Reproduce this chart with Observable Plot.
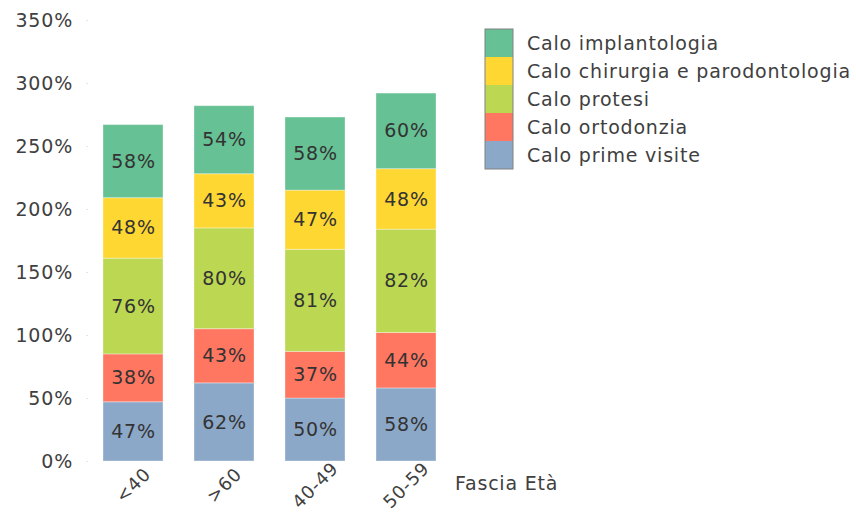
<!DOCTYPE html>
<html>
<head>
<meta charset="utf-8">
<script src="https://cdn.jsdelivr.net/npm/d3@7"></script>
<script src="https://cdn.jsdelivr.net/npm/@observablehq/plot@0.6"></script>
<style>
  html, body { margin: 0; padding: 0; background: #fff; }
  svg text { font-family: "DejaVu Sans", sans-serif; letter-spacing: 0.8px; }
</style>
</head>
<body>
<div id="chart"></div>
<script>
const categories = ["<40", ">60", "40-49", "50-59"];
const seriesNames = ["Calo prime visite", "Calo ortodonzia", "Calo protesi", "Calo chirurgia e parodontologia", "Calo implantologia"];
const seriesColors = ["#8ca8c8", "#ff7661", "#bcd852", "#ffd732", "#66c194"];
const primeVisite = [47, 62, 50, 58];
const ortodonzia = [38, 43, 37, 44];
const protesi = [76, 80, 81, 82];
const chirurgia = [48, 43, 47, 48];
const implantologia = [58, 54, 58, 60];
const yTicks = [0, 50, 100, 150, 200, 250, 300, 350];
const xLabel = "Fascia Età";

const seriesValues = [primeVisite, ortodonzia, protesi, chirurgia, implantologia];
const data = [];
seriesNames.forEach((s, si) => {
  categories.forEach((c, ci) => {
    data.push({ cat: c, series: s, order: si, value: seriesValues[si][ci] });
  });
});

const W = 856, H = 515;
const FS = 19;
const stackOpts = { x: "cat", y: "value", order: seriesNames, z: "series" };

const plot = Plot.plot({
  width: W,
  height: H,
  marginLeft: 87.5,
  marginRight: 404.5,
  marginTop: 20,
  marginBottom: 54,
  style: { fontFamily: "DejaVu Sans, sans-serif", background: "#fff" },
  x: { domain: categories, paddingInner: 0.34, paddingOuter: 0.17, label: null },
  y: { domain: [0, 350], label: null },
  color: { domain: seriesNames, range: seriesColors },
  marks: [
    Plot.barY(data, Plot.stackY({ ...stackOpts, fill: "series", stroke: "#ffffff", strokeOpacity: 0.35, strokeWidth: 1 })),
    Plot.text(data, Plot.stackY({ ...stackOpts, y: "value", text: d => d.value + "%", fill: "#333333", fontSize: FS })),
    Plot.axisY({ ticks: yTicks, tickFormat: d => d + "%", tickSize: 1, tickPadding: 14, stroke: "#c8c8c8", fontSize: FS, fill: "#404040" , label: null}),
    Plot.axisX({ tickRotate: -45, tickSize: 0, tickPadding: 24, textAnchor: "middle", lineAnchor: "middle", fontSize: 18, fill: "#404040", label: null })
  ]
});

document.getElementById("chart").appendChild(plot);

const svg = d3.select(plot);
const xScale = plot.scale("x");
const yScale = plot.scale("y");
const lastCat = categories[categories.length - 1];
const xl = xScale.apply(lastCat) + xScale.bandwidth + 19;

svg.append("text")
  .attr("x", xl)
  .attr("y", yScale.apply(0) + 29)
  .attr("font-size", FS)
  .attr("text-anchor", "start")
  .attr("fill", "#404040")
  .text(xLabel);

// Legend
const legendX = 485, legendY = 29, sw = 28, sh = 28;
const legendItems = seriesNames.map((s, i) => ({ s, c: seriesColors[i] })).reverse();
const lg = svg.append("g");
lg.selectAll("rect").data(legendItems).join("rect")
  .attr("x", legendX).attr("y", (d, i) => legendY + i * sh)
  .attr("width", sw).attr("height", sh)
  .attr("fill", d => d.c);
lg.append("rect")
  .attr("x", legendX).attr("y", legendY)
  .attr("width", sw).attr("height", sh * legendItems.length)
  .attr("fill", "none").attr("stroke", "#808080").attr("stroke-width", 1);
lg.selectAll("text").data(legendItems).join("text")
  .attr("x", legendX + sw + 14).attr("y", (d, i) => legendY + i * sh + sh / 2)
  .attr("dy", "0.35em")
  .attr("font-size", FS)
  .attr("text-anchor", "start")
  .attr("fill", "#404040")
  .text(d => d.s);
</script>
</body>
</html>
